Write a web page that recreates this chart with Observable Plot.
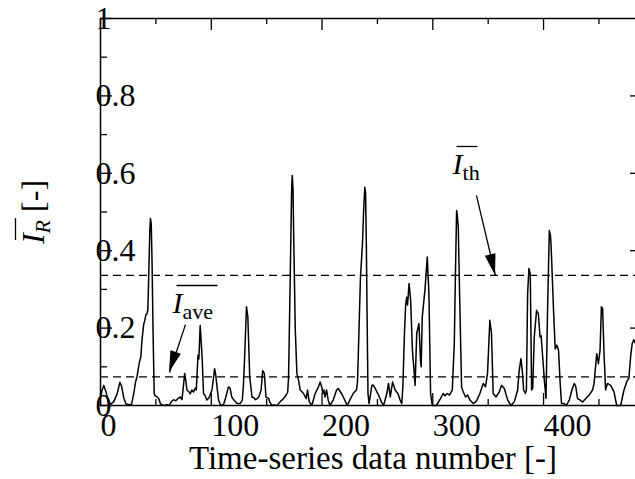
<!DOCTYPE html>
<html><head><meta charset="utf-8">
<script src="https://cdn.jsdelivr.net/npm/d3@7"></script>
<script src="https://cdn.jsdelivr.net/npm/@observablehq/plot@0.6"></script>
<style>
html,body{margin:0;padding:0;background:#fff;overflow:hidden;}
#chart svg, #chart svg text, #chart svg tspan{font-family:"Liberation Serif","Times New Roman",serif !important;}
</style></head><body><div id="chart"></div>
<script>
// ---- data ----
const sampleIndex = [0,1.5,3,5,7,9.5,12,15,17.5,19,21,23,26,28,30,31.6,33,35,36.4,37.5,39,40,41,42,42.8,43.5,44.5,45.1,45.8,46.6,47.5,48.5,49.5,51,52.6,54,56,58,60,62,64,66,68,70,72,73.5,74.5,76,77,78,80,81,82.5,84,85.5,86.5,88,88.8,90,91,91.8,93,94.5,96,98,100.6,102,103,104,105.5,106.6,108,109.6,111,113,115.5,117,118.5,120.4,123.4,126,128,129,130,131.8,133,134,134.7,136.8,138.5,139.8,141.5,142.9,145,146.4,147.9,149.4,151.8,153,154.8,157,159.3,162.3,165.3,167.7,169,169.8,171.3,172.5,173.1,173.8,174.3,175.8,177.3,178.8,180.3,183.3,185.7,186.9,188.4,190.8,193.8,196.8,198.3,200,200.7,201.7,202.6,204.1,205.5,207.1,210.1,213.1,214.6,217.6,220.6,222.7,225.1,228.1,231.1,232,232.6,234.7,236.5,237.5,238.6,239.3,240,240.8,241.5,242.5,245,246,248,251,253.5,255.6,258.5,260,261.6,263.7,266,268.5,270.5,272,273,274.4,275.5,276.5,277.2,278.6,280,281.6,282.8,284,285.5,286.5,287.5,288.9,289.5,290.5,292.9,295,296.5,298,299.5,303.3,306.4,309.4,311,313,315,317.6,319.4,320.5,321.5,322.2,323,324.5,326,327.5,329.6,331.5,333.5,336.5,339.5,342.5,345.5,347.6,349.4,351.5,353,354.5,357,360,362,364.6,367.6,370.6,373.6,376.6,378,379.6,381,382,383.6,384.5,385.6,386.8,388,389.2,390.2,391.6,393.7,395.3,396.8,397.8,399.2,400.7,402.2,403.6,405.2,406.2,406.7,407.2,409,410.5,412,413.5,415,416.2,418.6,420.5,423.2,425.6,427.7,429,430.7,433,435.2,438.2,441.2,444.2,445.6,448,449.5,451,452.2,453.3,454.6,456,457.6,460.6,463.6,466,469.6,472.6,475.6,477,478.6,480,481.5,483];
const intensityR = [0.02,0.04,0.052,0.035,0.01,0.004,0.01,0.03,0.06,0.05,0.02,0.004,0.002,0.003,0.03,0.06,0.075,0.11,0.126,0.17,0.21,0.22,0.235,0.237,0.25,0.33,0.45,0.483,0.47,0.36,0.18,0.03,0.025,0.022,0.018,0.005,0.001,0,0.002,0,0.01,0.015,0.012,0.018,0.022,0.015,0.04,0.083,0.065,0.04,0.035,0.03,0.04,0.035,0.045,0.04,0.13,0.12,0.207,0.16,0.12,0.031,0.025,0.014,0.02,0.04,0.07,0.095,0.08,0.04,0.014,0.004,0,0.002,0.02,0.048,0.045,0.022,0.014,0.005,0.005,0.014,0.05,0.117,0.255,0.23,0.14,0.074,0.022,0.02,0.015,0.018,0.022,0.04,0.09,0.083,0.022,0.018,0.008,0,0.001,0,0.01,0.018,0.027,0.035,0.074,0.332,0.55,0.594,0.56,0.46,0.2,0.083,0.065,0.04,0.031,0.018,0.04,0.01,0,0.031,0.048,0.061,0.045,0.031,0.04,0.022,0.04,0.015,0,0.014,0.04,0.044,0.031,0.014,0,0.014,0.031,0.04,0.06,0.117,0.332,0.418,0.5,0.564,0.55,0.418,0.2,0.03,0.005,0.052,0.053,0.044,0.027,0.01,0,0.031,0.057,0.022,0.061,0.04,0.031,0.014,0.005,0.05,0.186,0.26,0.28,0.26,0.315,0.272,0.143,0.1,0.052,0.186,0.2,0.212,0.117,0.1,0.229,0.298,0.384,0.289,0.031,0,0,0.015,0.031,0.025,0.031,0.027,0.04,0.16,0.35,0.504,0.49,0.46,0.246,0.048,0.035,0.022,0.027,0.014,0.005,0.012,0.031,0.057,0.048,0.083,0.22,0.186,0.031,0.022,0.035,0.052,0.044,0.014,0,0.01,0.04,0.091,0.121,0.083,0.04,0.031,0.04,0.289,0.354,0.34,0.04,0.045,0.177,0.246,0.237,0.177,0.18,0.126,0.065,0.018,0.246,0.452,0.44,0.418,0.384,0.246,0.146,0.156,0.143,0.057,0.005,0.005,0,0.014,0.04,0.057,0.05,0.018,0.014,0.009,0.018,0.027,0.04,0.057,0.134,0.108,0.143,0.255,0.25,0.134,0.04,0.057,0.052,0.035,0,0,0.04,0.065,0.07,0.126,0.16,0.17,0.16];
const averageLevel = [0.074];
const thresholdLevel = [0.336];
const xTickMajor = [0, 100, 200, 300, 400];
const xTickMinor = [50, 150, 250, 350, 450];
const yTickMajor = [0, 0.2, 0.4, 0.6, 0.8, 1];
const yTickMinor = [0.1, 0.3, 0.5, 0.7, 0.9];
const xTitle = ["Time-series data number [-]"];
const yTitle = ["IR [-]"];
const annotationText = ["Iave", "Ith"];
const annotationX = [65, 317.8];
const annotationY = [0.2403, 0.5969];
const arrowX1 = [76.7, 339.4], arrowY1 = [0.209, 0.543];
const arrowX2 = [62.3, 356.6], arrowY2 = [0.0853, 0.336];

// ---- layout ----
const W = 635, H = 479, mL = 100, mR = 0, mT = 18, mB = 74;
const plotW = W - mL - mR, plotH = H - mT - mB;
const serif = "Liberation Serif";

const table = sampleIndex.map((x, i) => ({x, y: intensityR[i]}));
const arrows = arrowX1.map((_, i) => ({x1: arrowX1[i], y1: arrowY1[i], x2: arrowX2[i], y2: arrowY2[i]}));
const annots = annotationText.map((t, i) => ({t, x: annotationX[i], y: annotationY[i]}));

const chart = Plot.plot({
  width: W, height: H,
  marginLeft: mL, marginRight: mR, marginTop: mT, marginBottom: mB,
  style: {background: "white", color: "black"},
  x: {domain: [0, 483], axis: null},
  y: {domain: [0, 1], axis: null},
  marks: [
    Plot.ruleY(averageLevel.concat(thresholdLevel), {stroke: "black", strokeWidth: 1.2, strokeDasharray: "8,5"}),
    Plot.line(table, {x: "x", y: "y", stroke: "black", strokeWidth: 1.5}),
    Plot.ruleX([0], {stroke: "black", strokeWidth: 1.5}),
    Plot.ruleY([0, 1], {stroke: "black", strokeWidth: 1.5}),
    Plot.ruleX(xTickMajor, {insetBottom: plotH - 12, strokeWidth: 1.3}),
    Plot.ruleX(xTickMinor, {insetBottom: plotH - 6, strokeWidth: 1.3}),
    Plot.ruleX(xTickMajor, {insetTop: plotH - 12, strokeWidth: 1.3}),
    Plot.ruleX(xTickMinor, {insetTop: plotH - 6, strokeWidth: 1.3}),
    Plot.ruleY(yTickMajor, {insetRight: plotW - 12, strokeWidth: 1.3}),
    Plot.ruleY(yTickMinor, {insetRight: plotW - 7, strokeWidth: 1.3}),
    Plot.ruleY(yTickMajor.filter(d => d > 0 && d < 1), {insetLeft: plotW - 5, strokeWidth: 1.3}),
    Plot.link(arrows, {x1: "x1", y1: "y1", x2: "x2", y2: "y2", stroke: "black", strokeWidth: 1.3}),
    Plot.text(xTickMajor, {x: d => d, text: d => String(d), frameAnchor: "bottom", textAnchor: "start", lineAnchor: "bottom", dy: 30, fontSize: 32, fontFamily: serif, fill: "black"}),
    Plot.text(yTickMajor, {y: d => d, text: d => String(d), frameAnchor: "left", textAnchor: "start", lineAnchor: "middle", dx: -5, fontSize: 32, fontFamily: serif, fill: "black"}),
    Plot.text(xTitle, {text: d => d, frameAnchor: "bottom", lineAnchor: "bottom", dy: 63, dx: 5, fontSize: 33, fontFamily: serif, fill: "black"}),
    Plot.text(yTitle, {text: d => d, frameAnchor: "left", rotate: -90, textAnchor: "middle", lineAnchor: "bottom", dx: -57, fontSize: 32, fontFamily: serif, fill: "black"}),
    Plot.text(annots, {x: "x", y: "y", text: "t", textAnchor: "start", lineAnchor: "bottom", fontSize: 30, fontFamily: serif, fill: "black"})
  ]
});
document.getElementById("chart").appendChild(chart);

// ---- rich text (italic I, subscripts, overline) and filled arrowheads ----
const svg = d3.select(chart);
function richLabel(match, parts, over) {
  svg.selectAll("text").filter(function () { return this.textContent === match; }).each(function () {
    const t = d3.select(this);
    t.text(null);
    for (const p of parts) {
      const s = t.append("tspan").text(p.text);
      if (p.italic) s.attr("font-style", "italic");
      if (p.size) s.attr("font-size", p.size);
      if (p.dy) s.attr("dy", p.dy);
    }
    const ext = this.getExtentOfChar(0);
    const x0 = ext.x + over.dx, y0 = ext.y + over.dy;
    d3.select(this.parentNode).append("line")
      .attr("transform", t.attr("transform"))
      .attr("x1", x0).attr("x2", x0 + over.len).attr("y1", y0).attr("y2", y0)
      .attr("stroke", "black").attr("stroke-width", 1.3);
  });
}
richLabel("Iave", [{text: "I", italic: true}, {text: "ave", size: 22, dy: 6}], {dx: 4, dy: 0, len: 41});
richLabel("Ith", [{text: "I", italic: true}, {text: "th", size: 22, dy: 6}], {dx: 4, dy: -1, len: 21});
richLabel("IR [-]", [{text: "I", italic: true}, {text: "R", italic: true, size: 22, dy: 6}, {text: " [-]", dy: -6}], {dx: 4, dy: 1, len: 22});

const sx = chart.scale("x"), sy = chart.scale("y");
const xs = d3.scaleLinear(sx.domain, sx.range), ys = d3.scaleLinear(sy.domain, sy.range);
const headG = svg.append("g");
for (const a of arrows) {
  const X1 = xs(a.x1), Y1 = ys(a.y1), X2 = xs(a.x2), Y2 = ys(a.y2);
  const L = Math.hypot(X2 - X1, Y2 - Y1), ux = (X2 - X1) / L, uy = (Y2 - Y1) / L;
  const bx = X2 - 21 * ux, by = Y2 - 21 * uy, nx = -uy, ny = ux, hw = 5.5;
  headG.append("path")
    .attr("d", `M${X2},${Y2}L${bx + hw * nx},${by + hw * ny}L${bx - hw * nx},${by - hw * ny}Z`)
    .attr("fill", "black");
}
</script></body></html>
